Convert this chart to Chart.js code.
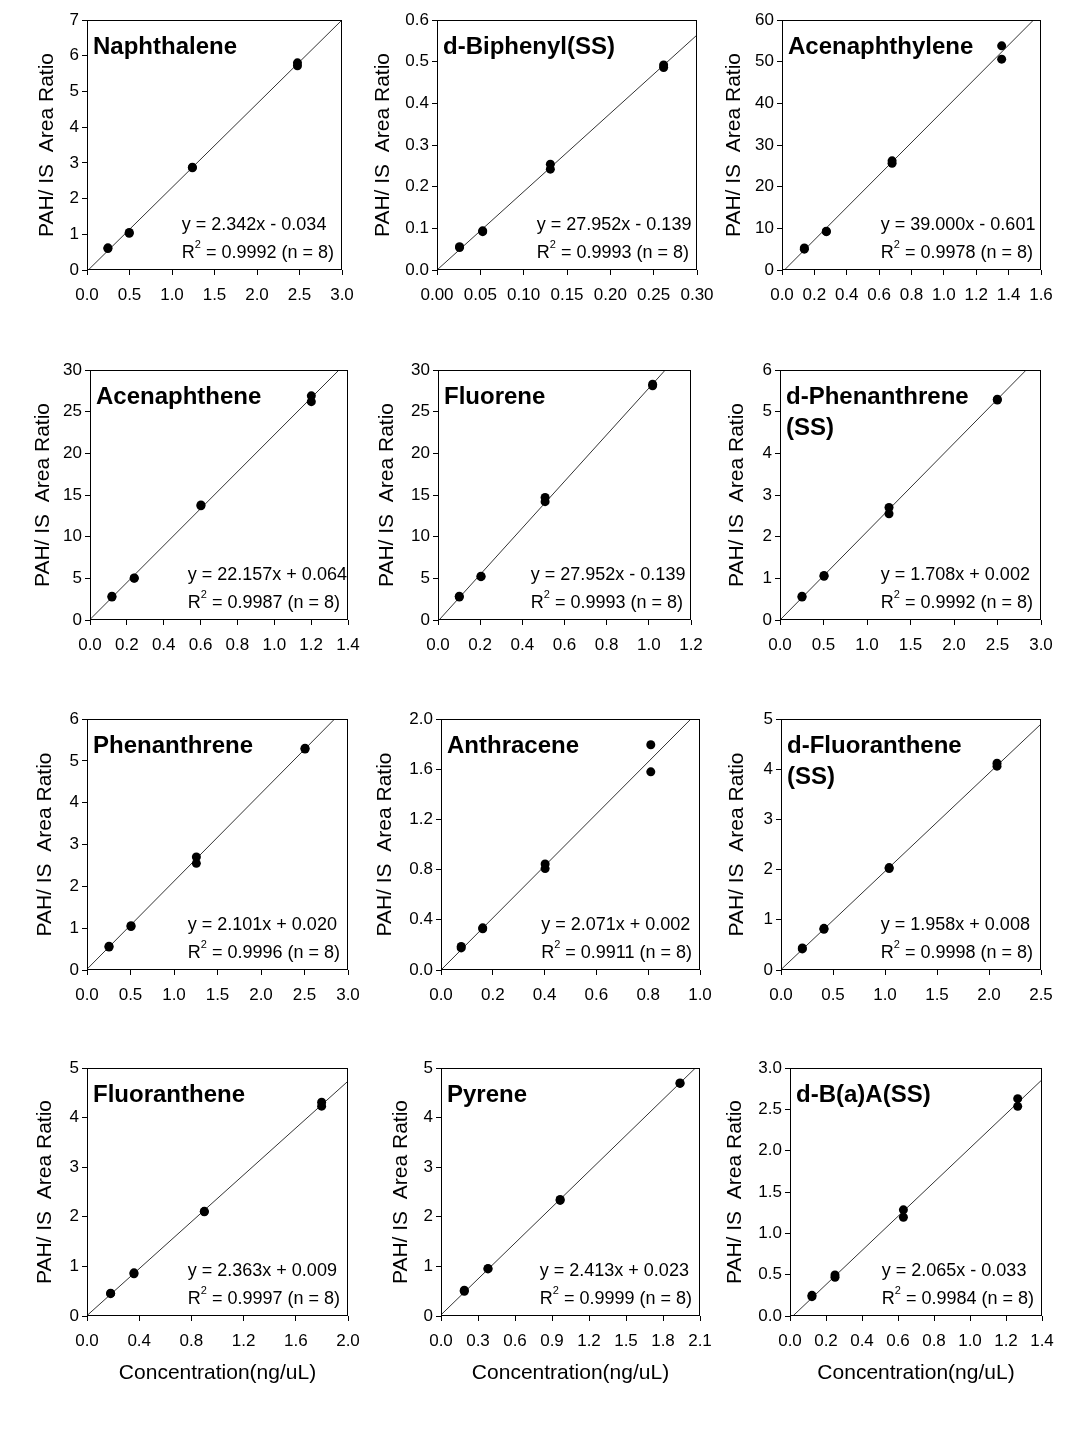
<!DOCTYPE html>
<html>
<head>
<meta charset="utf-8">
<script src="https://cdn.jsdelivr.net/npm/chart.js@4.4.1/dist/chart.umd.min.js"></script>
<style>
  body { margin: 0; background: #fff; width: 1074px; height: 1432px; position: relative; overflow: hidden; }
  canvas { position: absolute; }
</style>
</head>
<body>
<script>
// ---- data ----
const panelTitles = [
  ['Naphthalene'], ['d-Biphenyl(SS)'], ['Acenaphthylene'],
  ['Acenaphthene'], ['Fluorene'], ['d-Phenanthrene', '(SS)'],
  ['Phenanthrene'], ['Anthracene'], ['d-Fluoranthene', '(SS)'],
  ['Fluoranthene'], ['Pyrene'], ['d-B(a)A(SS)']
];
const equations = [
  'y = 2.342x - 0.034', 'y = 27.952x - 0.139', 'y = 39.000x - 0.601',
  'y = 22.157x + 0.064', 'y = 27.952x - 0.139', 'y = 1.708x + 0.002',
  'y = 2.101x + 0.020', 'y = 2.071x + 0.002', 'y = 1.958x + 0.008',
  'y = 2.363x + 0.009', 'y = 2.413x + 0.023', 'y = 2.065x - 0.033'
];
const rSquared = ['0.9992', '0.9993', '0.9978', '0.9987', '0.9993', '0.9992',
                  '0.9996', '0.9911', '0.9998', '0.9997', '0.9999', '0.9984'];
const sampleCount = 8;

const concentrations = [
  [0.246, 0.246, 0.497, 0.497, 1.24, 1.24, 2.476, 2.476],
  [0.026, 0.026, 0.0527, 0.0527, 0.1308, 0.1308, 0.2615, 0.2615],
  [0.138, 0.138, 0.274, 0.274, 0.680, 0.680, 1.357, 1.357],
  [0.119, 0.119, 0.240, 0.240, 0.602, 0.602, 1.201, 1.201],
  [0.101, 0.101, 0.204, 0.204, 0.508, 0.508, 1.018, 1.018],
  [0.253, 0.253, 0.506, 0.506, 1.253, 1.253, 2.498, 2.498],
  [0.253, 0.253, 0.506, 0.506, 1.257, 1.257, 2.506, 2.506],
  [0.078, 0.078, 0.161, 0.161, 0.402, 0.402, 0.810, 0.810],
  [0.205, 0.205, 0.413, 0.413, 1.04, 1.04, 2.077, 2.077],
  [0.181, 0.181, 0.360, 0.360, 0.899, 0.899, 1.798, 1.798],
  [0.189, 0.189, 0.381, 0.381, 0.966, 0.966, 1.938, 1.938],
  [0.122, 0.122, 0.250, 0.250, 0.630, 0.630, 1.265, 1.265]
];
const areaRatios = [
  [0.60, 0.62, 1.03, 1.05, 2.86, 2.88, 5.72, 5.80],
  [0.054, 0.056, 0.092, 0.094, 0.242, 0.254, 0.486, 0.492],
  [5.0, 5.3, 9.2, 9.3, 25.6, 26.2, 50.6, 53.8],
  [2.75, 2.85, 5.0, 5.05, 13.7, 13.8, 26.2, 26.9],
  [2.75, 2.85, 5.2, 5.25, 14.2, 14.7, 28.1, 28.3],
  [0.55, 0.57, 1.05, 1.07, 2.55, 2.70, 5.28, 5.30],
  [0.55, 0.57, 1.04, 1.06, 2.55, 2.70, 5.28, 5.30],
  [0.176, 0.187, 0.328, 0.336, 0.808, 0.845, 1.579, 1.795],
  [0.42, 0.44, 0.81, 0.83, 2.02, 2.04, 4.06, 4.12],
  [0.45, 0.46, 0.85, 0.87, 2.10, 2.11, 4.23, 4.31],
  [0.50, 0.52, 0.95, 0.96, 2.33, 2.35, 4.69, 4.70],
  [0.234, 0.250, 0.468, 0.497, 1.195, 1.284, 2.536, 2.629]
];

// fit line end points as drawn
const fitX = [
  [0.015, 3.0], [0, 0.3], [0.015, 1.554], [0, 1.351], [0.005, 1.078], [0, 2.83],
  [0, 2.846], [0, 0.965], [0, 2.5], [0, 2.0], [0, 2.063], [0.016, 1.4]
];
const fitY = [
  [0, 7.0], [0, 0.564], [0, 60], [0.064, 30], [0, 30], [0, 6],
  [0.02, 6], [0, 2], [0.008, 4.90], [0.009, 4.735], [0.023, 5], [0, 2.858]
];

const xTickLabels = [
  ['0.0', '0.5', '1.0', '1.5', '2.0', '2.5', '3.0'],
  ['0.00', '0.05', '0.10', '0.15', '0.20', '0.25', '0.30'],
  ['0.0', '0.2', '0.4', '0.6', '0.8', '1.0', '1.2', '1.4', '1.6'],
  ['0.0', '0.2', '0.4', '0.6', '0.8', '1.0', '1.2', '1.4'],
  ['0.0', '0.2', '0.4', '0.6', '0.8', '1.0', '1.2'],
  ['0.0', '0.5', '1.0', '1.5', '2.0', '2.5', '3.0'],
  ['0.0', '0.5', '1.0', '1.5', '2.0', '2.5', '3.0'],
  ['0.0', '0.2', '0.4', '0.6', '0.8', '1.0'],
  ['0.0', '0.5', '1.0', '1.5', '2.0', '2.5'],
  ['0.0', '0.4', '0.8', '1.2', '1.6', '2.0'],
  ['0.0', '0.3', '0.6', '0.9', '1.2', '1.5', '1.8', '2.1'],
  ['0.0', '0.2', '0.4', '0.6', '0.8', '1.0', '1.2', '1.4']
];
const yTickLabels = [
  ['0', '1', '2', '3', '4', '5', '6', '7'],
  ['0.0', '0.1', '0.2', '0.3', '0.4', '0.5', '0.6'],
  ['0', '10', '20', '30', '40', '50', '60'],
  ['0', '5', '10', '15', '20', '25', '30'],
  ['0', '5', '10', '15', '20', '25', '30'],
  ['0', '1', '2', '3', '4', '5', '6'],
  ['0', '1', '2', '3', '4', '5', '6'],
  ['0.0', '0.4', '0.8', '1.2', '1.6', '2.0'],
  ['0', '1', '2', '3', '4', '5'],
  ['0', '1', '2', '3', '4', '5'],
  ['0', '1', '2', '3', '4', '5'],
  ['0.0', '0.5', '1.0', '1.5', '2.0', '2.5', '3.0']
];

// ---- page layout: plot box [left, top, right, bottom, y-title gap] ----
const plotBoxes = [
  [87, 20, 342, 270, 40], [437, 20, 697, 270, 54], [782, 20, 1041, 270, 48],
  [90, 370, 348, 620, 47], [438, 370, 691, 620, 51], [780, 370, 1041, 620, 43],
  [87, 719, 348, 970, 42], [441, 719, 700, 970, 56], [781, 719, 1041, 970, 44],
  [87, 1068, 348, 1316, 42], [441, 1068, 700, 1316, 40], [790, 1068, 1042, 1316, 55]
];

const FONT = '"Liberation Sans", Arial, sans-serif';
Chart.defaults.font.family = FONT;
Chart.defaults.color = '#000';

const annotate = {
  id: 'annotate',
  afterDraw(chart) {
    const i = chart.options.plugins.annotate.index;
    const { ctx, chartArea: a } = chart;
    ctx.save();
    ctx.strokeStyle = '#000';
    ctx.lineWidth = 1;
    ctx.strokeRect(a.left + 0.5, a.top + 0.5, a.right - a.left - 1, a.bottom - a.top - 1);

    ctx.fillStyle = '#000';
    ctx.textAlign = 'left';
    ctx.textBaseline = 'middle';
    ctx.font = 'bold 24px ' + FONT;
    panelTitles[i].forEach((t, k) => ctx.fillText(t, a.left + 6, a.top + 27 + k * 31));

    // equation + R^2 block
    const tail = ' = ' + rSquared[i] + ' (n = ' + sampleCount + ')';
    ctx.font = '18px ' + FONT;
    const rW = ctx.measureText('R').width;
    const tailW = ctx.measureText(tail).width;
    ctx.font = '11px ' + FONT;
    const supW = ctx.measureText('2').width;
    const x0 = a.right - 8 - (rW + supW + tailW);
    ctx.font = '18px ' + FONT;
    ctx.fillText(equations[i], x0, a.bottom - 45);
    ctx.fillText('R', x0, a.bottom - 17);
    ctx.fillText(tail, x0 + rW + supW, a.bottom - 17);
    ctx.font = '11px ' + FONT;
    ctx.fillText('2', x0 + rW, a.bottom - 25);
    ctx.restore();
  }
};

function makeChart(i) {
  const [L, T, R, B, gap] = plotBoxes[i];
  const bottomRow = i >= 9;
  const axW = 72, padTop = 14, padRight = 28;
  const axH = bottomRow ? 80 : 44;
  const w = axW + (R - L) + padRight;
  const h = padTop + (B - T) + axH;
  const canvas = document.createElement('canvas');
  canvas.width = w;
  canvas.height = h;
  canvas.style.left = (L - axW) + 'px';
  canvas.style.top = (T - padTop) + 'px';
  canvas.style.width = w + 'px';
  canvas.style.height = h + 'px';
  document.body.appendChild(canvas);

  const xl = xTickLabels[i], yl = yTickLabels[i];
  const points = concentrations[i].map((x, k) => ({ x: x, y: areaRatios[i][k] }));
  const fit = fitX[i].map((x, k) => ({ x: x, y: fitY[i][k] }));

  new Chart(canvas, {
    type: 'scatter',
    data: {
      datasets: [
        { data: points, pointRadius: 4.5, pointHoverRadius: 4.5, backgroundColor: '#000', borderWidth: 0, order: 1 },
        { data: fit, showLine: true, pointRadius: 0, borderColor: '#333', borderWidth: 1, order: 2 }
      ]
    },
    options: {
      responsive: false,
      animation: false,
      events: [],
      layout: { padding: { top: padTop, right: padRight, left: 0, bottom: 0 } },
      plugins: { legend: { display: false }, tooltip: { enabled: false }, annotate: { index: i } },
      scales: {
        x: {
          type: 'linear',
          min: parseFloat(xl[0]),
          max: parseFloat(xl[xl.length - 1]),
          afterBuildTicks: s => { s.ticks = xl.map(t => ({ value: parseFloat(t) })); },
          afterFit: s => { s.height = axH; },
          ticks: { callback: (v, k) => xl[k], autoSkip: false, maxRotation: 0, padding: 10, font: { size: 17 }, color: '#000' },
          grid: { drawOnChartArea: false, drawTicks: true, tickLength: 5, color: '#000' },
          border: { display: false },
          title: {
            display: bottomRow,
            text: 'Concentration(ng/uL)',
            font: { size: 21 },
            color: '#000',
            padding: { top: 0, bottom: axH - 57 - 12.6 }
          }
        },
        y: {
          type: 'linear',
          min: parseFloat(yl[0]),
          max: parseFloat(yl[yl.length - 1]),
          afterBuildTicks: s => { s.ticks = yl.map(t => ({ value: parseFloat(t) })); },
          afterFit: s => { s.width = axW; },
          ticks: { callback: (v, k) => yl[k], autoSkip: false, padding: 3, font: { size: 17 }, color: '#000' },
          grid: { drawOnChartArea: false, drawTicks: true, tickLength: 5, color: '#000' },
          border: { display: false },
          title: {
            display: true,
            text: 'PAH/ IS  Area Ratio',
            font: { size: 21 },
            color: '#000',
            padding: { top: axW - gap - 12.6, bottom: 0 }
          }
        }
      }
    },
    plugins: [annotate]
  });
}

for (let i = 0; i < plotBoxes.length; i++) makeChart(i);
</script>
</body>
</html>
